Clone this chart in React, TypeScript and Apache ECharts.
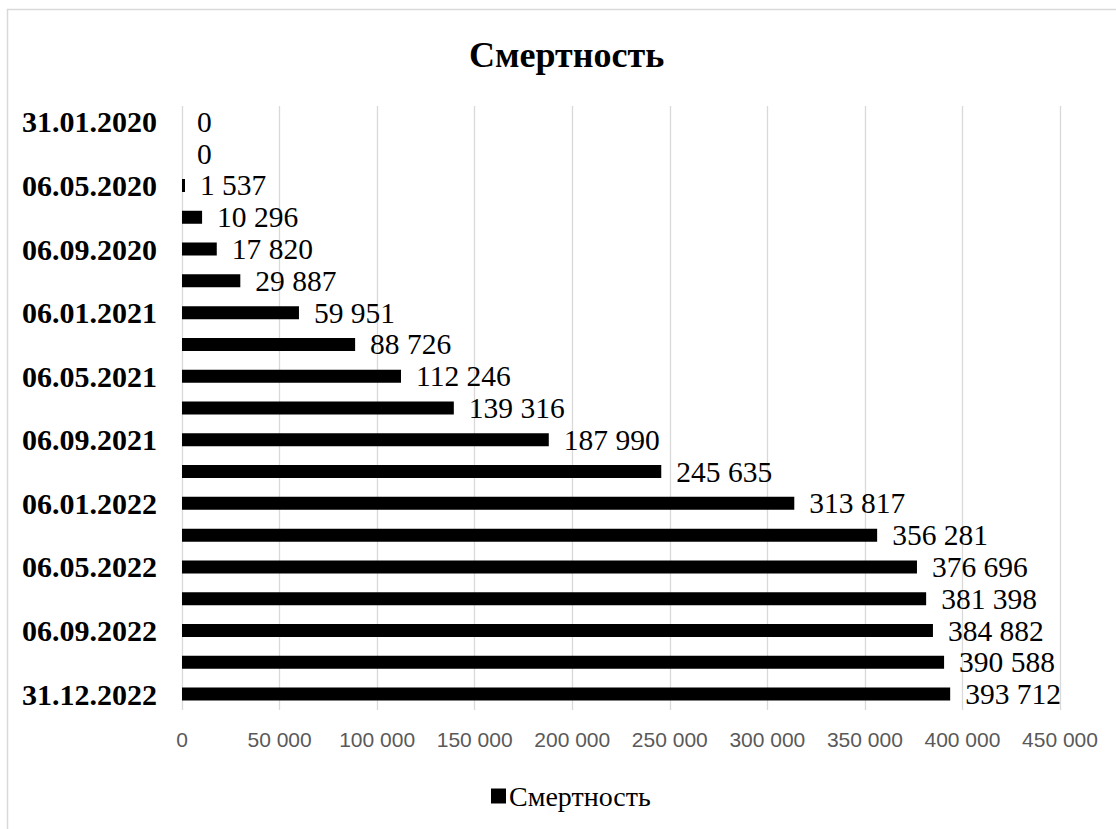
import React, { useEffect, useRef } from "react";
import * as echarts from "echarts";

const categories = [
  "31.01.2020", "06.03.2020", "06.05.2020", "06.07.2020", "06.09.2020",
  "06.11.2020", "06.01.2021", "06.03.2021", "06.05.2021", "06.07.2021",
  "06.09.2021", "06.11.2021", "06.01.2022", "06.03.2022", "06.05.2022",
  "06.07.2022", "06.09.2022", "06.11.2022", "31.12.2022",
];
const deaths = [
  0, 0, 1537, 10296, 17820, 29887, 59951, 88726, 112246, 139316,
  187990, 245635, 313817, 356281, 376696, 381398, 384882, 390588, 393712,
];
const seriesName = "Смертность";
const titleText = "Смертность";

const fmt = (v: number) =>
  String(Math.round(v)).replace(/\B(?=(\d{3})+(?!\d))/g, " ");

const SERIF = "'Liberation Serif', 'DejaVu Serif', serif";

export default function App() {
  const ref = useRef<HTMLDivElement>(null);
  useEffect(() => {
    if (!ref.current) return;
    const chart = echarts.init(ref.current, undefined, { renderer: "svg" });
    chart.setOption({
      animation: false,
      backgroundColor: "#ffffff",
      graphic: [
        {
          type: "rect",
          shape: { x: 7.5, y: 9.5, width: 1130, height: 840 },
          style: { fill: "none", stroke: "#d9d9d9", lineWidth: 1.5 },
          silent: true,
        },
      ],
      title: {
        text: titleText,
        left: 464,
        top: 32,
        textStyle: { fontFamily: SERIF, fontWeight: "bold", fontSize: 36, color: "#000" },
      },
      legend: {
        bottom: 14,
        left: 486,
        icon: "rect",
        itemWidth: 15,
        itemHeight: 15,
        itemGap: 6,
        textStyle: { fontFamily: SERIF, fontSize: 28, color: "#000", padding: [0, 0, 0, -2] },
        data: [seriesName],
      },
      grid: { left: 182, right: 56, top: 106, bottom: 119, containLabel: false },
      xAxis: {
        type: "value",
        min: 0,
        max: 450000,
        interval: 50000,
        axisLine: { show: false },
        axisTick: { show: false },
        splitLine: { show: true, lineStyle: { color: "#d9d9d9", width: 1.3 } },
        axisLabel: {
          formatter: (v: number) => fmt(v),
          fontFamily: "'Liberation Sans', Arial, sans-serif",
          fontSize: 21,
          color: "#595959",
          margin: 19,
        },
      },
      yAxis: {
        type: "category",
        data: categories,
        inverse: true,
        axisLine: { show: false },
        axisTick: { show: false },
        splitLine: { show: false },
        axisLabel: {
          interval: 1,
          fontFamily: SERIF,
          fontWeight: "bold",
          fontSize: 30,
          color: "#000",
          margin: 25,
        },
      },
      series: [
        {
          name: seriesName,
          type: "bar",
          data: deaths,
          barWidth: 13,
          itemStyle: { color: "#000" },
          label: {
            show: true,
            position: "right",
            distance: 15,
            formatter: (p: any) => fmt(p.value),
            fontFamily: SERIF,
            fontSize: 29.5,
            color: "#000",
          },
        },
      ],
    });
    return () => chart.dispose();
  }, []);
  return (
    <div
      ref={ref}
      style={{ position: "fixed", left: 0, top: 0, width: 1116, height: 829 }}
    />
  );
}
